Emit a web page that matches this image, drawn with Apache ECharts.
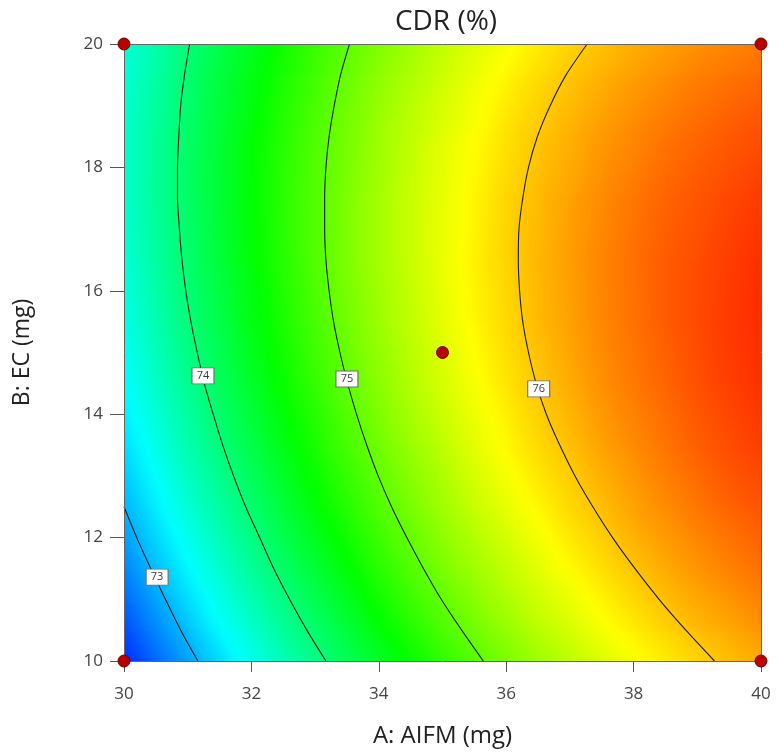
<!DOCTYPE html>
<html><head><meta charset="utf-8">
<script src="https://cdn.jsdelivr.net/npm/echarts@6/dist/echarts.min.js"></script>
<style>html,body{margin:0;padding:0;background:#fff}#main{width:778px;height:755px}</style>
</head><body><div id="main"></div>
<script>
// ---- axis grid of the response surface ----
const aLevels = [30,30.5,31,31.5,32,32.5,33,33.5,34,34.5,35,35.5,36,36.5,37,37.5,38,38.5,39,39.5,40];
const bLevels = [10,11,12,13,14,15,16,17,18,19,20];
// CDR (%), one row per B level, columns follow aLevels
const cdrB10 = [72.35,72.64,72.91,73.18,73.44,73.69,73.92,74.15,74.37,74.57,74.77,74.95,75.13,75.29,75.44,75.59,75.72,75.84,75.95,76.05,76.15];
const cdrB11 = [72.64,72.92,73.19,73.46,73.71,73.95,74.18,74.40,74.62,74.82,75.01,75.19,75.36,75.52,75.66,75.80,75.93,76.05,76.16,76.25,76.34];
const cdrB12 = [72.89,73.16,73.43,73.69,73.94,74.18,74.41,74.62,74.83,75.02,75.21,75.39,75.55,75.70,75.85,75.98,76.11,76.22,76.32,76.41,76.49];
const cdrB13 = [73.10,73.37,73.64,73.89,74.13,74.37,74.59,74.80,75.00,75.19,75.37,75.55,75.71,75.86,75.99,76.12,76.24,76.35,76.45,76.54,76.61];
const cdrB14 = [73.27,73.54,73.80,74.05,74.29,74.52,74.73,74.94,75.14,75.33,75.50,75.67,75.82,75.97,76.10,76.23,76.34,76.44,76.54,76.62,76.69];
const cdrB15 = [73.41,73.67,73.93,74.17,74.41,74.63,74.84,75.04,75.24,75.42,75.59,75.75,75.90,76.04,76.17,76.29,76.40,76.50,76.59,76.67,76.73];
const cdrB16 = [73.50,73.76,74.01,74.25,74.48,74.70,74.91,75.11,75.30,75.47,75.64,75.80,75.94,76.08,76.20,76.32,76.42,76.52,76.60,76.67,76.74];
const cdrB17 = [73.56,73.82,74.06,74.30,74.52,74.74,74.94,75.14,75.32,75.49,75.65,75.80,75.95,76.08,76.20,76.31,76.41,76.50,76.57,76.64,76.70];
const cdrB18 = [73.59,73.84,74.08,74.31,74.53,74.74,74.93,75.12,75.30,75.47,75.63,75.77,75.91,76.04,76.15,76.26,76.35,76.44,76.51,76.57,76.63];
const cdrB19 = [73.57,73.81,74.05,74.28,74.49,74.70,74.89,75.07,75.25,75.41,75.56,75.70,75.84,75.96,76.07,76.17,76.26,76.34,76.41,76.47,76.52];
const cdrB20 = [73.51,73.75,73.99,74.21,74.42,74.62,74.81,74.99,75.15,75.31,75.46,75.60,75.72,75.84,75.95,76.04,76.13,76.20,76.27,76.32,76.37];
const cdrRows = [cdrB10,cdrB11,cdrB12,cdrB13,cdrB14,cdrB15,cdrB16,cdrB17,cdrB18,cdrB19,cdrB20];

// contour lines (A, B)
const contour73 = [[30.0,12.5],[30.20,12],[30.42,11.5],[30.65,11],[30.89,10.5],[31.16,10]];
const contour74 = [[31.03,20],[30.95,19.5],[30.89,19],[30.86,18.5],[30.84,18],[30.84,17.5],[30.87,17],[30.91,16.5],[30.97,16],[31.05,15.5],[31.15,15],[31.26,14.5],[31.40,14],[31.55,13.5],[31.72,13],[31.91,12.5],[32.13,12],[32.35,11.5],[32.60,11],[32.87,10.5],[33.17,10]];
const contour75 = [[33.54,20],[33.40,19.5],[33.30,19],[33.22,18.5],[33.17,18],[33.15,17.5],[33.15,17],[33.17,16.5],[33.22,16],[33.29,15.5],[33.39,15],[33.51,14.5],[33.65,14],[33.81,13.5],[33.99,13],[34.20,12.5],[34.44,12],[34.70,11.5],[34.98,11],[35.30,10.5],[35.64,10]];
const contour76 = [[37.27,20],[36.94,19.5],[36.69,19],[36.49,18.5],[36.35,18],[36.26,17.5],[36.20,17],[36.19,16.5],[36.21,16],[36.26,15.5],[36.35,15],[36.47,14.5],[36.63,14],[36.84,13.5],[37.08,13],[37.36,12.5],[37.67,12],[38.02,11.5],[38.40,11],[38.82,10.5],[39.27,10]];
const contourLevels = [73,74,75,76];
// contour label positions (A, B, level)
const contourLabels = [[30.52,11.36,73],[31.24,14.62,74],[33.50,14.57,75],[36.51,14.41,76]];
// design points
const designPoints = [[30,10],[30,20],[40,10],[40,20],[35,15]];

const xMin = 30, xMax = 40, xStep = 2;
const yMin = 10, yMax = 20, yStep = 2;
const colorLow = 72.15, colorHigh = 76.95;
const palette = [[0,0,255],[0,255,255],[0,255,0],[255,255,0],[255,0,0]];

function colorOf(v) {
  let t = (v - colorLow) / (colorHigh - colorLow);
  t = Math.max(0, Math.min(1, t));
  const s = t * (palette.length - 1);
  const k = Math.min(Math.floor(s), palette.length - 2);
  const f = s - k;
  const c0 = palette[k], c1 = palette[k + 1];
  const r = Math.round(c0[0] + (c1[0] - c0[0]) * f);
  const g = Math.round(c0[1] + (c1[1] - c0[1]) * f);
  const b = Math.round(c0[2] + (c1[2] - c0[2]) * f);
  return 'rgb(' + r + ',' + g + ',' + b + ')';
}

const cellData = [];
for (let j = 0; j < bLevels.length; j++) {
  for (let i = 0; i < aLevels.length; i++) {
    cellData.push([aLevels[i], bLevels[j], cdrRows[j][i], i, j]);
  }
}

function renderCell(params, api) {
  const A = api.value(0), B = api.value(1), v = api.value(2);
  const i = api.value(3), j = api.value(4);
  const nA = aLevels.length, nB = bLevels.length;
  const aL = i > 0 ? (aLevels[i - 1] + A) / 2 : A;
  const aR = i < nA - 1 ? (aLevels[i + 1] + A) / 2 : A;
  const bD = j > 0 ? (bLevels[j - 1] + B) / 2 : B;
  const bU = j < nB - 1 ? (bLevels[j + 1] + B) / 2 : B;
  const pc = api.coord([A, B]);
  const p1 = api.coord([aL, bU]);
  const p2 = api.coord([aR, bD]);
  const iL = Math.max(i - 1, 0), iR = Math.min(i + 1, nA - 1);
  const jD = Math.max(j - 1, 0), jU = Math.min(j + 1, nB - 1);
  const xl = api.coord([aLevels[iL], B])[0], xr = api.coord([aLevels[iR], B])[0];
  const yu = api.coord([A, bLevels[jU]])[1], yd = api.coord([A, bLevels[jD]])[1];
  const gx = (cdrRows[j][iR] - cdrRows[j][iL]) / (xr - xl);
  const gy = (cdrRows[jU][i] - cdrRows[jD][i]) / (yu - yd);
  const x0 = Math.min(p1[0], p2[0]) - 0.6, x1 = Math.max(p1[0], p2[0]) + 0.6;
  const y0 = Math.min(p1[1], p2[1]) - 0.6, y1 = Math.max(p1[1], p2[1]) + 0.6;
  const cx = (x0 + x1) / 2, cy = (y0 + y1) / 2;
  const vC = v + gx * (cx - pc[0]) + gy * (cy - pc[1]);
  const gm = Math.sqrt(gx * gx + gy * gy);
  let fill;
  if (!(gm > 1e-9)) {
    fill = colorOf(vC);
  } else {
    const ux = gx / gm, uy = gy / gm;
    const t = ((x1 - x0) * Math.abs(ux) + (y1 - y0) * Math.abs(uy)) / 2;
    const stops = [];
    for (let k = 0; k <= 6; k++) {
      const f = k / 6;
      stops.push({ offset: f, color: colorOf(vC + (2 * f - 1) * t * gm) });
    }
    fill = new echarts.graphic.LinearGradient(cx - ux * t, cy - uy * t, cx + ux * t, cy + uy * t, stops, true);
  }
  return { type: 'rect', shape: { x: x0, y: y0, width: x1 - x0, height: y1 - y0 }, style: { fill: fill } };
}

const FONT = '"Open Sans", "Noto Sans", sans-serif';
const chart = echarts.init(document.getElementById('main'), null, { renderer: 'canvas' });

const contourSeries = [contour73, contour74, contour75, contour76].map((pts, k) => ({
  name: 'CDR ' + contourLevels[k],
  type: 'line',
  data: pts,
  smooth: 0.2,
  showSymbol: false,
  symbol: 'none',
  silent: true,
  z: 3,
  lineStyle: { color: '#1c1c1c', width: 1.1 }
}));

chart.setOption({
  animation: false,
  backgroundColor: '#ffffff',
  title: {
    text: 'CDR (%)',
    left: 441,
    textAlign: 'center',
    top: 3,
    textStyle: { fontFamily: FONT, fontSize: 28, fontWeight: 'normal', color: '#222' }
  },
  grid: { left: 124, right: 17, top: 44, bottom: 94, show: false },
  xAxis: [{
    type: 'value', min: xMin, max: xMax, interval: xStep, z: 10,
    name: 'A: AIFM (mg)', nameLocation: 'middle', nameGap: 63,
    nameTextStyle: { fontFamily: FONT, fontSize: 24, color: '#222' },
    axisLine: { show: true, onZero: false, lineStyle: { color: '#666', width: 1 } },
    axisTick: { show: true, inside: false, length: 11, lineStyle: { color: '#555' } },
    axisLabel: { margin: 25, fontFamily: FONT, fontSize: 17, color: '#444' },
    splitLine: { show: false }
  }, {
    type: 'value', min: xMin, max: xMax, position: 'top', z: 10,
    axisLine: { show: true, onZero: false, lineStyle: { color: '#666', width: 1 } },
    axisTick: { show: false }, axisLabel: { show: false }, splitLine: { show: false }
  }],
  yAxis: [{
    type: 'value', min: yMin, max: yMax, interval: yStep, z: 10,
    name: 'B: EC (mg)', nameLocation: 'middle', nameGap: 90,
    nameTextStyle: { fontFamily: FONT, fontSize: 23, color: '#222' },
    axisLine: { show: true, onZero: false, lineStyle: { color: '#666', width: 1 } },
    axisTick: { show: true, inside: false, length: 14, lineStyle: { color: '#555' } },
    axisLabel: { margin: 21, fontFamily: FONT, fontSize: 17, color: '#444' },
    splitLine: { show: false }
  }, {
    type: 'value', min: yMin, max: yMax, position: 'right', z: 10,
    axisLine: { show: true, onZero: false, lineStyle: { color: '#666', width: 1 } },
    axisTick: { show: false }, axisLabel: { show: false }, splitLine: { show: false }
  }],
  series: [{
    name: 'surface',
    type: 'custom',
    renderItem: renderCell,
    data: cellData,
    encode: { x: 0, y: 1 },
    clip: true,
    silent: true,
    z: 1
  }].concat(contourSeries).concat([{
    name: 'labels',
    type: 'scatter',
    data: contourLabels,
    symbol: 'rect',
    symbolSize: [22, 16],
    silent: true,
    z: 6,
    itemStyle: { color: '#ffffff', borderColor: '#6f6f6f', borderWidth: 1, opacity: 1 },
    label: {
      show: true, position: 'inside', fontFamily: FONT, fontSize: 11, color: '#3a3a3a',
      formatter: p => String(p.value[2])
    }
  }, {
    name: 'design points',
    type: 'scatter',
    data: designPoints,
    symbol: 'circle',
    symbolSize: 12,
    clip: false,
    silent: true,
    z: 12,
    itemStyle: { color: '#b80000', borderColor: '#6e0000', borderWidth: 1, opacity: 1 }
  }])
});
</script>
</body></html>
